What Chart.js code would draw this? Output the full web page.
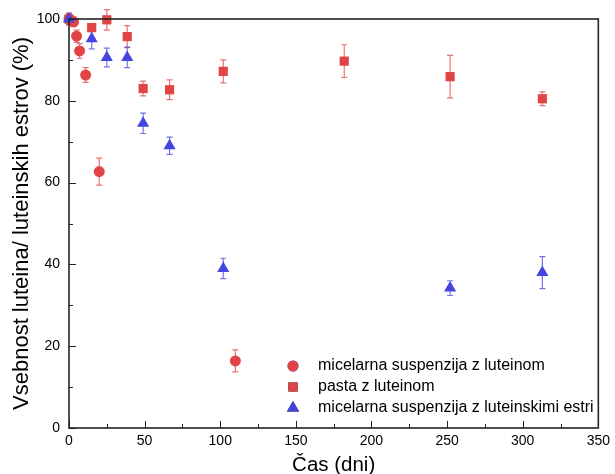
<!DOCTYPE html>
<html>
<head>
<meta charset="utf-8">
<script src="https://cdn.jsdelivr.net/npm/chart.js@4/dist/chart.umd.min.js"></script>
<style>
  body { margin: 0; background: #fff; }
</style>
</head>
<body>
<canvas id="myChart" width="615" height="474"></canvas>
<script>
// micelarna suspenzija z luteinom
const dniKrogi = [0, 3, 5, 7, 11, 20, 110];
const vsebKrogi = [100, 99.3, 95.8, 92.2, 86.3, 62.7, 16.4];
const napKrogi = [1.2, 1.2, 1.5, 1.8, 1.8, 3.3, 2.7];

// pasta z luteinom
const dniKvadrati = [0, 15, 25, 38.5, 49, 66.5, 102, 182, 252, 313];
const vsebKvadrati = [100, 97.9, 99.8, 95.7, 83, 82.7, 87.2, 89.7, 85.9, 80.5];
const napKvadrati = [1.5, 1, 2.5, 2.7, 1.8, 2.4, 2.8, 4, 5.2, 1.7];

// micelarna suspenzija z luteinskimi estri
const dniTrikotniki = [0, 15, 25, 38.5, 49, 66.5, 102, 252, 313];
const vsebTrikotniki = [100, 95.2, 90.6, 90.6, 74.5, 69, 39, 34.2, 38];
const napTrikotniki = [1.2, 2.5, 2.3, 2.5, 2.5, 2.1, 2.5, 1.8, 3.9];

const xTicks = [0, 50, 100, 150, 200, 250, 300, 350];
const yTicks = [0, 20, 40, 60, 80, 100];

const rdeca = '#E04444';
const modra = '#4444E0';
const pisava = '"Liberation Sans", Arial, sans-serif';

function tocke(xs, ys, err) {
  return xs.map((x, i) => ({ x: x, y: ys[i], err: err[i] }));
}

const errorBars = {
  id: 'errorBars',
  beforeDatasetsDraw(chart) {
    const ctx = chart.ctx;
    const y = chart.scales.y;
    chart.data.datasets.forEach((ds, di) => {
      const meta = chart.getDatasetMeta(di);
      ctx.save();
      ctx.strokeStyle = ds.borderColor;
      ctx.globalAlpha = 0.75;
      ctx.lineWidth = 1.2;
      meta.data.forEach((el, i) => {
        const d = ds.data[i];
        const top = y.getPixelForValue(d.y + d.err);
        const bot = y.getPixelForValue(d.y - d.err);
        ctx.beginPath();
        ctx.moveTo(el.x, top); ctx.lineTo(el.x, bot);
        ctx.moveTo(el.x - 3, top); ctx.lineTo(el.x + 3, top);
        ctx.moveTo(el.x - 3, bot); ctx.lineTo(el.x + 3, bot);
        ctx.stroke();
      });
      ctx.restore();
    });
  }
};

const okvir = {
  id: 'okvir',
  afterDatasetsDraw(chart) {
    const ctx = chart.ctx;
    const a = chart.chartArea;
    // legend inside the plot, clipped at the frame
    ctx.save();
    ctx.beginPath();
    ctx.rect(a.left, a.top, a.right - a.left, a.bottom - a.top);
    ctx.clip();
    ctx.font = '16px ' + pisava;
    ctx.textBaseline = 'middle';
    const rows = [366, 387, 408];
    chart.data.datasets.forEach((ds, i) => {
      ctx.beginPath();
      Chart.helpers.drawPoint(ctx, {
        pointStyle: ds.pointStyle, radius: ds.pointRadius, rotation: 0, borderWidth: 0
      }, 293, rows[i]);
      ctx.fillStyle = ds.backgroundColor;
      ctx.fill();
      ctx.fillStyle = '#000';
      ctx.fillText(ds.label, 318, rows[i]);
    });
    ctx.restore();
  },
  afterDraw(chart) {
    const ctx = chart.ctx;
    const a = chart.chartArea;
    const xs = chart.scales.x, ys = chart.scales.y;
    ctx.save();
    ctx.strokeStyle = '#222';
    ctx.lineWidth = 1;
    ctx.beginPath();
    for (let v = 0; v <= 350; v += 25) {
      const px = Math.round(xs.getPixelForValue(v)) + 0.5;
      const len = v % 50 === 0 ? 7 : 4;
      ctx.moveTo(px, a.bottom); ctx.lineTo(px, a.bottom - len);
    }
    for (let v = 0; v <= 100; v += 10) {
      const py = Math.round(ys.getPixelForValue(v)) + 0.5;
      const len = v % 20 === 0 ? 7 : 4;
      ctx.moveTo(a.left, py); ctx.lineTo(a.left + len, py);
    }
    ctx.stroke();
    ctx.lineWidth = 1.6;
    ctx.strokeRect(a.left, a.top, a.right - a.left, a.bottom - a.top);
    ctx.restore();
  }
};

const ctx = document.getElementById('myChart');

new Chart(ctx, {
  type: 'scatter',
  data: {
    datasets: [{
      label: 'micelarna suspenzija z luteinom',
      data: tocke(dniKrogi, vsebKrogi, napKrogi),
      order: 1,
      pointStyle: 'circle',
      pointRadius: 5.5,
      backgroundColor: rdeca,
      borderColor: rdeca,
      borderWidth: 0
    }, {
      label: 'pasta z luteinom',
      data: tocke(dniKvadrati, vsebKvadrati, napKvadrati),
      order: 2,
      pointStyle: 'rect',
      pointRadius: 6.5,
      backgroundColor: rdeca,
      borderColor: rdeca,
      borderWidth: 0
    }, {
      label: 'micelarna suspenzija z luteinskimi estri',
      data: tocke(dniTrikotniki, vsebTrikotniki, napTrikotniki),
      order: 0,
      pointStyle: 'triangle',
      pointRadius: 7,
      backgroundColor: modra,
      borderColor: modra,
      borderWidth: 0
    }]
  },
  options: {
    responsive: false,
    animation: false,
    devicePixelRatio: 1,
    clip: false,
    layout: { padding: { top: 19, right: 16, left: 0, bottom: 0 } },
    plugins: {
      legend: { display: false },
      tooltip: { enabled: false }
    },
    scales: {
      x: {
        type: 'linear',
        min: 0,
        max: 350,
        afterBuildTicks: s => { s.ticks = xTicks.map(v => ({ value: v })); },
        afterFit: s => { s.height = 46; },
        grid: { display: false, drawTicks: false },
        border: { display: false },
        ticks: {
          padding: 5,
          color: '#000',
          font: { family: pisava, size: 14 }
        },
        title: {
          display: true,
          text: 'Čas (dni)',
          color: '#000',
          padding: 0,
          font: { family: pisava, size: 20.5, lineHeight: 0.85 }
        }
      },
      y: {
        type: 'linear',
        min: 0,
        max: 100,
        afterBuildTicks: s => { s.ticks = yTicks.map(v => ({ value: v })); },
        afterFit: s => { s.width = 69; },
        grid: { display: false, drawTicks: false },
        border: { display: false },
        ticks: {
          padding: 9,
          color: '#000',
          font: { family: pisava, size: 14 }
        },
        title: {
          display: true,
          text: 'Vsebnost luteina/ luteinskih estrov (%)',
          color: '#000',
          padding: { top: 11, bottom: 0 },
          font: { family: pisava, size: 22, lineHeight: 1 }
        }
      }
    }
  },
  plugins: [errorBars, okvir]
});
</script>
</body>
</html>
